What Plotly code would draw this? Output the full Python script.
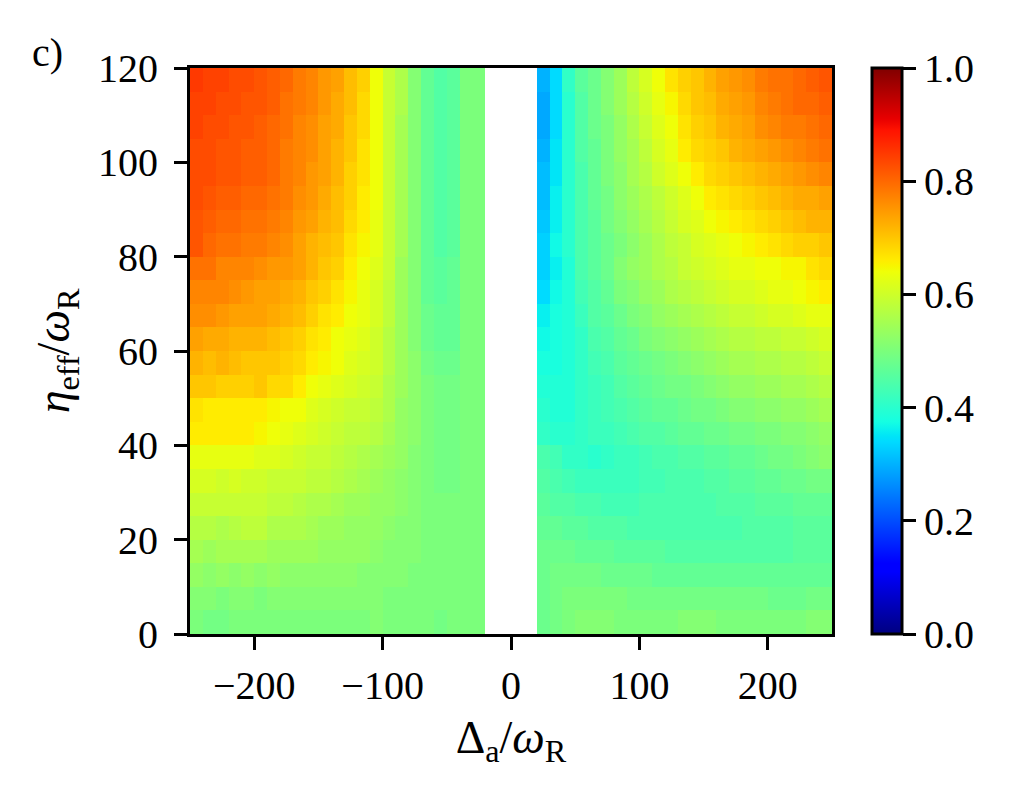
import plotly.graph_objects as go

# ---------------- data (values in percent) ----------------
x_left = [-245, -235, -225, -215, -205, -195, -185, -175, -165, -155, -145, -135,
          -125, -115, -105, -95, -85, -75, -65, -55, -45, -35, -25]
x_gap = [-15, -5, 5, 15]
x_right = [25, 35, 45, 55, 65, 75, 85, 95, 105, 115, 125, 135,
           145, 155, 165, 175, 185, 195, 205, 215, 225, 235, 245]
y_rows = [2.5, 7.5, 12.5, 17.5, 22.5, 27.5, 32.5, 37.5, 42.5, 47.5, 52.5, 57.5,
          62.5, 67.5, 72.5, 77.5, 82.5, 87.5, 92.5, 97.5, 102.5, 107.5, 112.5, 117.5]

left_vals = [
    [50, 49, 49, 50, 50, 50, 50, 50, 50, 50, 50, 50, 50, 50, 51, 50, 50, 50, 50, 49, 50, 50, 50],
    [51, 51, 50, 51, 51, 50, 51, 51, 51, 51, 51, 51, 51, 51, 51, 50, 50, 50, 50, 50, 50, 50, 50],
    [53, 52, 53, 52, 53, 52, 53, 52, 52, 52, 52, 52, 52, 51, 51, 51, 51, 50, 50, 50, 50, 50, 50],
    [55, 54, 55, 55, 55, 55, 54, 54, 54, 54, 53, 53, 53, 53, 52, 51, 51, 51, 50, 50, 50, 50, 50],
    [57, 57, 56, 57, 58, 58, 56, 56, 56, 55, 54, 54, 53, 53, 53, 52, 51, 51, 50, 50, 50, 50, 50],
    [59, 59, 59, 59, 59, 59, 58, 58, 57, 56, 56, 55, 54, 54, 53, 53, 52, 51, 50, 50, 50, 50, 50],
    [61, 61, 60, 61, 60, 60, 59, 59, 59, 58, 58, 57, 56, 55, 54, 53, 52, 51, 50, 49, 49, 50, 50],
    [63, 63, 63, 63, 63, 62, 62, 61, 60, 59, 59, 58, 57, 56, 55, 54, 53, 51, 50, 49, 49, 50, 50],
    [66, 66, 66, 66, 66, 65, 64, 63, 62, 61, 60, 59, 58, 58, 57, 55, 53, 52, 50, 49, 49, 50, 50],
    [67, 66, 66, 66, 66, 66, 65, 64, 64, 62, 61, 60, 59, 59, 58, 56, 53, 52, 50, 49, 49, 50, 50],
    [70, 70, 69, 69, 69, 70, 68, 68, 66, 64, 63, 62, 61, 60, 59, 56, 54, 52, 50, 49, 49, 50, 50],
    [72, 71, 72, 71, 70, 70, 70, 69, 68, 66, 65, 64, 62, 61, 60, 57, 54, 52, 49, 48, 48, 50, 50],
    [74, 73, 73, 72, 72, 72, 71, 70, 69, 67, 66, 64, 63, 62, 60, 57, 54, 51, 48, 47, 47, 50, 50],
    [76, 76, 75, 74, 74, 74, 73, 72, 71, 69, 67, 66, 64, 63, 61, 58, 54, 51, 48, 47, 47, 50, 50],
    [77, 77, 77, 76, 75, 74, 74, 73, 72, 70, 69, 67, 65, 63, 61, 58, 54, 51, 47, 46, 47, 50, 50],
    [79, 79, 77, 77, 77, 76, 75, 75, 74, 72, 70, 69, 66, 64, 62, 59, 54, 51, 47, 46, 47, 50, 50],
    [82, 80, 79, 79, 78, 78, 77, 76, 74, 72, 71, 70, 67, 65, 63, 59, 55, 51, 47, 45, 46, 50, 50],
    [82, 81, 80, 80, 79, 79, 78, 77, 75, 74, 72, 71, 68, 66, 63, 59, 55, 51, 47, 45, 46, 50, 50],
    [83, 82, 81, 81, 80, 80, 79, 78, 76, 75, 73, 71, 69, 66, 64, 59, 55, 51, 47, 45, 46, 50, 50],
    [83, 83, 82, 82, 81, 81, 80, 78, 77, 75, 74, 72, 69, 67, 64, 59, 55, 51, 47, 45, 46, 50, 50],
    [83, 83, 82, 82, 81, 81, 80, 78, 77, 76, 74, 72, 70, 67, 64, 59, 55, 51, 47, 45, 46, 50, 50],
    [84, 83, 83, 82, 82, 81, 80, 79, 77, 76, 74, 73, 70, 68, 64, 59, 55, 51, 47, 45, 46, 50, 50],
    [84, 84, 83, 83, 82, 82, 81, 79, 78, 77, 75, 73, 71, 68, 64, 59, 56, 51, 47, 45, 46, 50, 50],
    [85, 84, 84, 83, 83, 82, 81, 80, 78, 77, 75, 74, 71, 69, 64, 59, 56, 51, 47, 45, 46, 50, 50],
]

right_vals = [
    [48, 49, 50, 51, 51, 51, 50, 50, 50, 50, 50, 51, 51, 51, 50, 50, 50, 50, 50, 50, 50, 51, 51],
    [48, 49, 50, 50, 50, 50, 50, 49, 49, 49, 49, 49, 49, 49, 49, 49, 49, 49, 48, 48, 48, 49, 49],
    [48, 49, 49, 49, 49, 48, 48, 48, 48, 47, 47, 47, 47, 47, 47, 47, 47, 47, 47, 47, 47, 47, 47],
    [48, 48, 48, 47, 47, 47, 46, 46, 46, 46, 45, 45, 45, 45, 45, 45, 45, 45, 45, 45, 46, 46, 46],
    [47, 47, 46, 46, 45, 45, 45, 44, 44, 44, 44, 44, 44, 44, 44, 44, 45, 45, 45, 45, 46, 46, 46],
    [46, 45, 45, 44, 44, 43, 43, 43, 44, 44, 44, 44, 44, 44, 45, 45, 45, 46, 46, 46, 47, 47, 47],
    [45, 44, 43, 42, 42, 42, 42, 42, 43, 43, 44, 44, 44, 45, 45, 46, 46, 47, 47, 48, 48, 49, 49],
    [44, 43, 41, 41, 40, 41, 42, 42, 43, 44, 44, 45, 45, 46, 46, 47, 47, 48, 49, 49, 50, 51, 52],
    [41, 40, 40, 41, 42, 42, 43, 44, 45, 45, 46, 47, 47, 48, 48, 49, 49, 50, 50, 51, 51, 52, 53],
    [40, 39, 39, 41, 42, 43, 44, 45, 46, 47, 47, 48, 49, 49, 50, 51, 51, 52, 52, 53, 53, 54, 55],
    [39, 39, 39, 41, 42, 43, 45, 46, 47, 48, 49, 49, 50, 51, 52, 53, 53, 54, 54, 55, 55, 56, 57],
    [38, 38, 39, 41, 43, 44, 46, 47, 48, 49, 50, 51, 52, 53, 54, 55, 55, 56, 56, 57, 57, 58, 59],
    [37, 38, 39, 41, 44, 45, 47, 48, 50, 51, 52, 53, 54, 55, 56, 57, 57, 58, 58, 59, 59, 60, 61],
    [36, 38, 39, 42, 45, 46, 48, 50, 51, 53, 54, 55, 56, 57, 58, 59, 59, 60, 61, 61, 62, 63, 63],
    [34, 37, 39, 43, 45, 47, 50, 51, 53, 54, 56, 57, 58, 59, 60, 61, 61, 62, 63, 63, 64, 65, 66],
    [33, 36, 39, 44, 46, 48, 51, 53, 54, 56, 57, 59, 60, 61, 62, 63, 63, 64, 64, 65, 65, 67, 68],
    [33, 37, 40, 44, 46, 48, 50, 52, 54, 56, 58, 59, 61, 62, 63, 64, 65, 66, 67, 68, 69, 69, 70],
    [32, 36, 40, 44, 46, 49, 51, 53, 55, 57, 59, 61, 62, 64, 65, 66, 67, 68, 69, 70, 71, 72, 72],
    [31, 36, 40, 44, 47, 49, 52, 54, 56, 58, 60, 62, 64, 66, 67, 68, 69, 70, 71, 72, 73, 73, 74],
    [31, 35, 40, 44, 47, 50, 52, 55, 57, 60, 62, 64, 66, 68, 69, 70, 71, 72, 73, 74, 75, 76, 77],
    [30, 35, 40, 45, 47, 50, 53, 55, 58, 61, 63, 66, 68, 69, 70, 72, 73, 74, 75, 76, 77, 78, 79],
    [29, 34, 40, 45, 48, 50, 53, 56, 59, 62, 64, 67, 69, 70, 72, 73, 74, 76, 77, 78, 78, 79, 80],
    [29, 34, 40, 45, 48, 51, 54, 57, 60, 63, 65, 68, 70, 71, 73, 74, 75, 77, 78, 79, 80, 80, 81],
    [30, 34, 41, 46, 48, 51, 54, 58, 61, 64, 67, 69, 70, 72, 74, 75, 76, 78, 79, 79, 80, 81, 82],
]

x_ticks = [-200, -100, 0, 100, 200]
y_ticks = [0, 20, 40, 60, 80, 100, 120]
c_ticks = [0.0, 0.2, 0.4, 0.6, 0.8, 1.0]

# ---------------- build grid ----------------
x_all = x_left + x_gap + x_right
z = []
for lrow, rrow in zip(left_vals, right_vals):
    z.append([v / 100 for v in lrow] + [None] * len(x_gap) + [v / 100 for v in rrow])

# matplotlib "jet" colormap (segment data)
jet_seg = {
    "r": [(0, 0), (0.35, 0), (0.66, 1), (0.89, 1), (1, 0.5)],
    "g": [(0, 0), (0.125, 0), (0.375, 1), (0.64, 1), (0.91, 0), (1, 0)],
    "b": [(0, 0.5), (0.11, 1), (0.34, 1), (0.65, 0), (1, 0)],
}


def seg(points, t):
    for (x0, y0), (x1, y1) in zip(points[:-1], points[1:]):
        if x0 <= t <= x1:
            return y0 + (y1 - y0) * (t - x0) / (x1 - x0) if x1 > x0 else y1
    return points[-1][1]


stops = sorted(set([p[0] for c in jet_seg.values() for p in c] + [i / 50 for i in range(51)]))
jet = []
for t in stops:
    r, g, b = (round(255 * seg(jet_seg[k], t)) for k in ("r", "g", "b"))
    jet.append([t, f"rgb({r},{g},{b})"])

FONT = "Liberation Serif"
FS = 40
TFS = 46

fig = go.Figure(
    go.Heatmap(
        x=x_all,
        y=y_rows,
        z=z,
        zmin=0,
        zmax=1,
        colorscale=jet,
        hoverongaps=False,
        colorbar=dict(
            x=(872 - 190) / 642,
            xanchor="left",
            y=0,
            yanchor="bottom",
            len=1,
            lenmode="fraction",
            thickness=30,
            outlinewidth=3,
            outlinecolor="black",
            tickvals=c_ticks,
            ticktext=[f"{v:.1f}" for v in c_ticks],
            ticks="outside",
            ticklen=13,
            tickwidth=3,
            tickcolor="black",
            tickfont=dict(family=FONT, size=FS, color="black"),
            xpad=0,
            ypad=0,
        ),
    )
)

fig.update_layout(
    width=1012,
    height=801,
    margin=dict(l=190, r=180, t=68, b=167),
    paper_bgcolor="white",
    plot_bgcolor="white",
    font=dict(family=FONT, size=FS, color="black"),
    xaxis=dict(
        range=[-250, 250],
        tickvals=x_ticks,
        ticks="outside",
        ticklen=13,
        tickwidth=3,
        tickcolor="black",
        showline=True,
        linewidth=3,
        linecolor="black",
        mirror=True,
        showgrid=False,
        zeroline=False,
        ticklabelstandoff=1,
        title=dict(text="Δ<sub>a</sub>/<i>ω</i><sub>R</sub>", standoff=14,
                   font=dict(family=FONT, size=TFS)),
    ),
    yaxis=dict(
        range=[0, 120],
        tickvals=y_ticks,
        ticks="outside",
        ticklen=13,
        tickwidth=3,
        tickcolor="black",
        showline=True,
        linewidth=3,
        linecolor="black",
        mirror=True,
        showgrid=False,
        zeroline=False,
        ticklabelstandoff=8,
        title=dict(text="<i>η</i><sub>eff</sub>/<i>ω</i><sub>R</sub>", standoff=14,
                   font=dict(family=FONT, size=TFS)),
    ),
    annotations=[
        dict(text="c)", xref="paper", yref="paper", x=(47 - 190) / 642, y=(634 - 52) / 566,
             showarrow=False, font=dict(family=FONT, size=FS), xanchor="center", yanchor="middle"),
    ],
)

fig.write_html("out.html")
